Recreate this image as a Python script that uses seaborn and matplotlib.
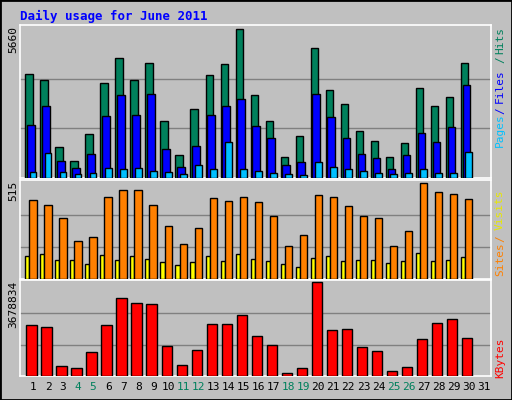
import numpy as np
import matplotlib
matplotlib.use("Agg")
import matplotlib.pyplot as plt
import seaborn as sns

days = np.arange(1, 32)
hits = [3966, 3735, 1194, 655, 1656, 3619, 4543, 3735, 4389, 2156, 886, 2618, 3927, 4351, 5660,
        3157, 2156, 809, 1579, 4928, 3350, 2811, 1771, 1425, 809, 1348, 3427, 2734, 3080, 4389, 0]
files = [2002, 2734, 655, 385, 924, 2349, 3157, 2387, 3196, 1117, 424, 1232, 2387, 2734, 3003,
         1964, 1502, 501, 616, 3196, 2310, 1502, 924, 770, 347, 886, 1694, 1386, 1925, 3542, 0]
pages = [231, 963, 231, 154, 193, 385, 347, 385, 270, 231, 154, 501, 347, 1386, 347,
         270, 193, 154, 116, 616, 424, 347, 270, 193, 154, 193, 347, 193, 193, 1001, 0]
visits = [123, 134, 101, 101, 78, 129, 101, 123, 106, 90, 73, 90, 123, 95, 134,
          106, 95, 78, 67, 112, 123, 95, 101, 101, 84, 95, 140, 95, 101, 118, 0]
sites = [425, 397, 330, 202, 224, 442, 476, 476, 397, 285, 190, 274, 437, 420, 442,
         414, 341, 179, 235, 453, 442, 392, 336, 330, 179, 257, 515, 470, 459, 431, 0]
kbytes = [1980825, 1899975, 404250, 323400, 929775, 1980825, 3072300, 2870175, 2829750, 1172325,
          444675, 1010625, 2021250, 2021250, 2385075, 1576575, 1212750, 121275, 323400, 3678834,
          1819125, 1859550, 1131900, 970200, 202125, 363825, 1455300, 2061675, 2223375, 1495725, 0]
weekends = [4, 5, 11, 12, 18, 19, 25, 26]

BG = "#c0c0c0"
fig = plt.figure(figsize=(5.12, 4.0), dpi=100, facecolor=BG)
fig.patches.append(plt.Rectangle((0, 0), 1, 1, transform=fig.transFigure,
                                 fill=False, edgecolor="black", linewidth=2))
mono = "DejaVu Sans Mono"

L, W = 20 / 512, 471 / 512
def mkax(top, bot):
    ax = fig.add_axes([L, 1 - bot / 400, W, (bot - top) / 400], facecolor=BG)
    for s in ax.spines.values():
        s.set_color("white")
        s.set_linewidth(1.2)
    ax.set_xlim(0.13, 31.5)
    return ax

def bars(ax, vals, off, w, color):
    sns.barplot(x=days[:30] + off, y=vals[:30], native_scale=True, width=w, color=color,
                edgecolor="black", linewidth=1, ax=ax, saturation=1, zorder=3)

def grid(ax, mx, top_frac):
    ax.set_ylim(0, mx / top_frac)
    for f in (1 / 3, 2 / 3):
        ax.axhline(mx * f, color="#808080", linewidth=1, zorder=1)
    ax.set_yticks([])
    ax.set_ylabel("")

ax1 = mkax(25, 178)
grid(ax1, max(hits), 147 / 151)
bars(ax1, hits, -0.27, 0.49, "#00805c")
bars(ax1, files, -0.14, 0.5, "#0000ff")
bars(ax1, pages, 0.0, 0.45, "#00c0ff")
ax1.set_xticks([])

ax2 = mkax(180, 279)
grid(ax2, max(sites), 92 / 95)
bars(ax2, visits, -0.38, 0.27, "#ffff00")
bars(ax2, sites, 0.0, 0.49, "#ff8000")
ax2.set_xticks([])

ax3 = mkax(280, 376)
grid(ax3, max(kbytes), 91 / 93)
bars(ax3, kbytes, -0.1, 0.69, "#ff0000")
ax3.set_xticks(days)
ax3.set_xticklabels([str(d) for d in days], fontfamily=mono, fontsize=8)
ax3.tick_params(axis="x", length=0, pad=4)
for lab, d in zip(ax3.get_xticklabels(), days):
    lab.set_color("#00805c" if d in weekends else "black")

fig.text(20 / 512, 1 - 16 / 400, "Daily usage for June 2011", color="#0000ff",
         fontfamily=mono, fontweight="bold", fontsize=9, va="center")

def ylab(y, txt):
    fig.text(13 / 512, 1 - y / 400, txt, rotation=90, va="top", ha="center",
             fontfamily=mono, fontsize=8)
ylab(26, f"{max(hits)}")
ylab(181, f"{max(sites)}")
ylab(281, f"{max(kbytes)}")

def rlab(y, txt, color):
    fig.text(500 / 512, 1 - y / 400, txt, rotation=90, va="center", ha="center",
             fontfamily=mono, fontsize=8, color=color)
rlab(40, "Hits", "#00805c")
rlab(60, "/", "#00805c")
rlab(86, "Files", "#0000ff")
rlab(111, "/", "#0000ff")
rlab(130, "Pages", "#00c0ff")
rlab(210, "Visits", "#e8e800")
rlab(239, "/", "#ff8000")
rlab(259, "Sites", "#ff8000")
rlab(358, "KBytes", "#ff0000")

fig.savefig("out.png", dpi=100, facecolor=BG)
